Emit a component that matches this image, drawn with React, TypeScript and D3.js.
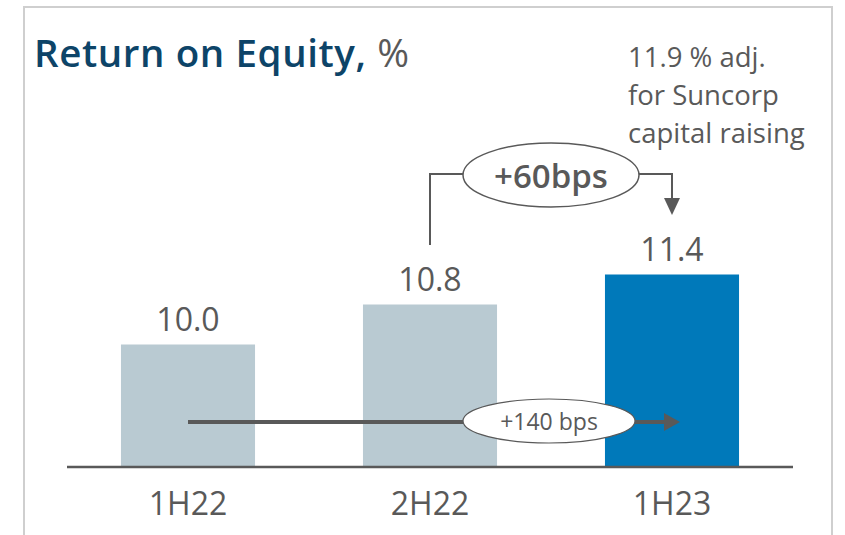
import React from 'react'
import * as d3 from 'd3'

const categories = ['1H22', '2H22', '1H23']
const roeValues = [10.0, 10.8, 11.4]
const valueLabels = ['10.0', '10.8', '11.4']
const barColors = ['#b9cad2', '#b9cad2', '#0079ba']
const noteLines = ['11.9 % adj.', 'for Suncorp', 'capital raising']
const changeShort = '+60bps'
const changeLong = '+140 bps'

const W = 845
const H = 535
const FONT = '"Open Sans", "Noto Sans", sans-serif'
const GREY = '#595959'

const App = () => {
  const x = d3.scaleBand<string>()
    .domain(categories)
    .range([67, 793])
    .paddingInner(0.446)
    .paddingOuter(0.223)
  const y = d3.scaleLinear().domain([7.55, 12]).range([467, 244.5])
  const cx = (c: string) => (x(c) as number) + x.bandwidth() / 2

  const c1 = cx(categories[0])
  const c2 = cx(categories[1])
  const c3 = cx(categories[2])
  const mid = (c2 + c3) / 2

  return (
    <div style={{ position: 'absolute', left: 0, top: 0 }}>
      <svg width={W} height={H} style={{ display: 'block', fontFamily: FONT }}>
        <rect x={24} y={7} width={808} height={H + 20} fill="#fff" stroke="#cfcfcf" strokeWidth={2} />

        <text x={34} y={67} fontSize={38.5} letterSpacing={0.6}>
          <tspan fill="#0d4468" fontWeight={600}>Return on Equity,</tspan>
          <tspan fill={GREY} fontWeight={400}> %</tspan>
        </text>

        {noteLines.map((t, i) => (
          <text key={t} x={628} y={67 + i * 38} fontSize={27.5} fill={GREY}>{t}</text>
        ))}

        {categories.map((c, i) => (
          <rect key={c} x={x(c)} y={y(roeValues[i])} width={x.bandwidth()} height={y(y.domain()[0]) - y(roeValues[i])} fill={barColors[i]} />
        ))}

        {categories.map((c, i) => (
          <text key={c} x={cx(c)} y={y(roeValues[i]) - 14} fontSize={32} fill={GREY} textAnchor="middle">{valueLabels[i]}</text>
        ))}

        <line x1={67} x2={793} y1={467} y2={467} stroke={GREY} strokeWidth={2.5} />

        {categories.map((c) => (
          <text key={c} x={cx(c)} y={515} fontSize={32} fill={GREY} textAnchor="middle">{c}</text>
        ))}

        {/* +60bps connector */}
        <path d={`M${c2},245 V174 H${c3} V206`} fill="none" stroke={GREY} strokeWidth={2} />
        <path d={`M${c3 - 8},198 L${c3 + 8},198 L${c3},215 Z`} fill={GREY} />
        <ellipse cx={mid} cy={175} rx={88} ry={32} fill="#fff" stroke={GREY} strokeWidth={1.5} />
        <text x={mid} y={188} fontSize={33} fontWeight={600} fill={GREY} textAnchor="middle">{changeShort}</text>

        {/* +140 bps arrow */}
        <line x1={c1} x2={c3 - 6} y1={422} y2={422} stroke={GREY} strokeWidth={4} />
        <path d={`M${c3 - 8},413 L${c3 + 8},422 L${c3 - 8},431 Z`} fill={GREY} />
        <ellipse cx={mid - 2} cy={421} rx={86} ry={22} fill="#fff" stroke={GREY} strokeWidth={1.2} />
        <text x={mid - 2} y={430} fontSize={23} fill={GREY} textAnchor="middle">{changeLong}</text>
      </svg>
    </div>
  )
}

export default App
